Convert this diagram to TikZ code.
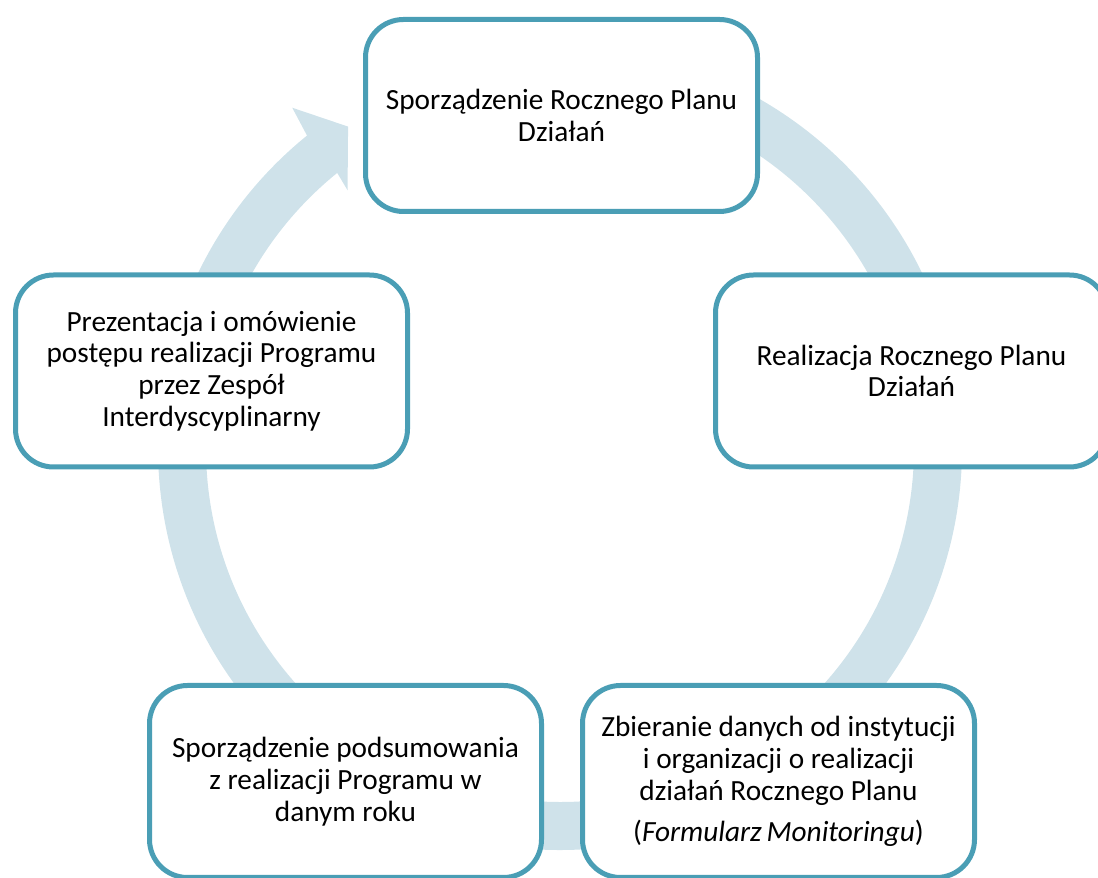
\documentclass[tikz,border=0pt]{standalone}
\usepackage{fontspec}
\setmainfont{Carlito}
\definecolor{boxcol}{RGB}{74,158,181}
\definecolor{ringcol}{RGB}{207,226,234}
\begin{document}
\begin{tikzpicture}[x=1pt,y=1pt,
  stagebox/.style={draw=boxcol, line width=5pt, rounded corners=38pt, fill=white,
    minimum width=392pt, minimum height=192pt, align=center, inner sep=0pt,
    font=\fontsize{29.3}{31.8}\selectfont, text=black}]
\useasboundingbox (0,0) rectangle (1098,878);
\clip (0,0) rectangle (1098,878);
% circular arrow
\begin{scope}[shift={(560,430)}]
\fill[ringcol] (95:402pt) arc[start angle=95, end angle=-231, radius=402pt]
  -- (128.2:433pt) -- (123.4:385pt) -- (129.5:334pt) -- (-231:354pt)
  arc[start angle=-231, end angle=95, radius=354pt] -- cycle;
\end{scope}
% stages
\node[stagebox] (plan) at (561.5,762.5) {Sporządzenie Rocznego Planu\\Działań};
\node[stagebox] (real) at (911.5,507) {Realizacja Rocznego Planu\\Działań};
\node[stagebox] (zbier) at (778.5,96.5) {Zbieranie danych od instytucji\\i organizacji o realizacji\\działań Rocznego Planu\\[9pt](\textit{Formularz\,Monitoringu})};
\node[stagebox] (podsum) at (345.5,96.5) {Sporządzenie podsumowania\\z realizacji Programu w\\danym roku};
\node[stagebox] (prez) at (211.5,507) {Prezentacja i omówienie\\postępu realizacji Programu\\przez Zespół\\Interdyscyplinarny};
\end{tikzpicture}
\end{document}
